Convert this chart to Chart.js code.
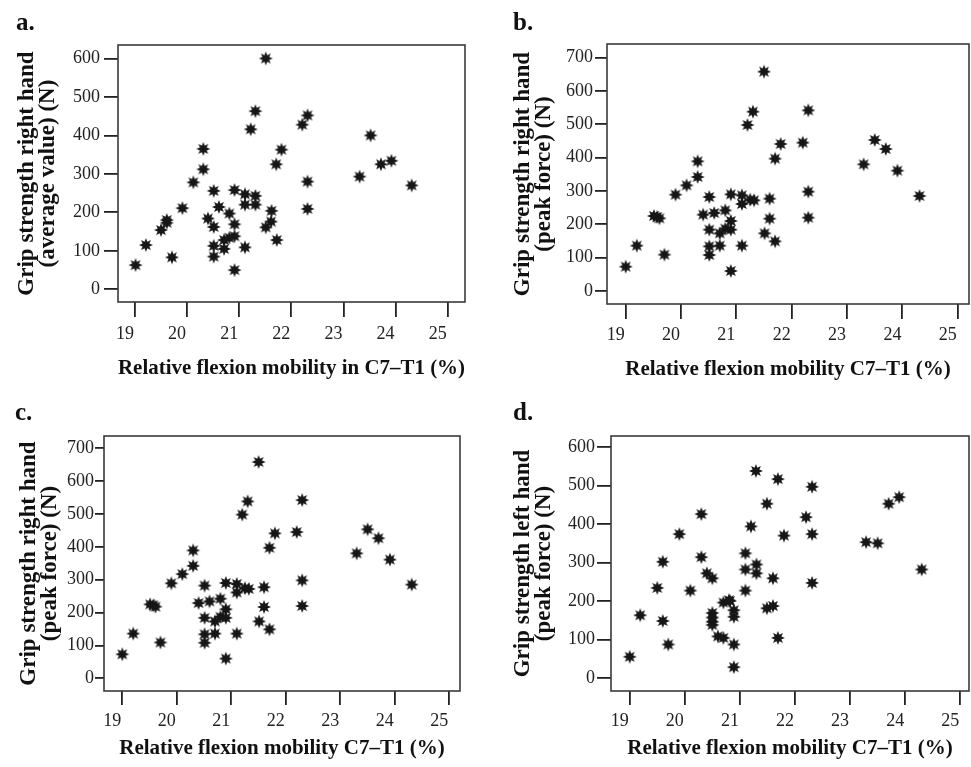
<!DOCTYPE html>
<html>
<head>
<meta charset="utf-8">
<script src="https://cdn.jsdelivr.net/npm/chart.js@4.4.1/dist/chart.umd.min.js"></script>
<style>
  html, body { margin: 0; padding: 0; background: #fff; }
  #wrap { position: relative; width: 971px; height: 767px; background: #fff; overflow: hidden; }
  canvas { position: absolute; }
  .lbl { position: absolute; font-family: 'Liberation Serif', 'Times New Roman', serif; font-weight: bold; font-size: 25px; line-height: 25px; color: #111; }
</style>
</head>
<body>
<div id="wrap">
  <canvas id="cA" width="480" height="400" style="left:0;top:0"></canvas>
  <canvas id="cB" width="491" height="400" style="left:480px;top:0"></canvas>
  <canvas id="cC" width="480" height="387" style="left:0;top:380px"></canvas>
  <canvas id="cD" width="491" height="387" style="left:480px;top:380px"></canvas>
  <div class="lbl" style="left:16px;top:9px">a.</div>
  <div class="lbl" style="left:513px;top:9px">b.</div>
  <div class="lbl" style="left:15px;top:399px">c.</div>
  <div class="lbl" style="left:513px;top:399px">d.</div>
</div>
<script>
// ---------------- DATA ----------------
// Panel a: relative flexion mobility in C7–T1 (%) vs grip strength right hand (average value) (N)
const xA = [21.51,21.31,22.31,22.21,21.22,23.52,20.31,21.81,21.71,23.72,23.92,20.31,23.31,20.12,22.31,24.31,20.51,20.91,21.11,21.31,21.11,21.31,20.61,19.91,22.31,21.62,20.81,20.40,19.61,19.61,21.61,20.91,20.51,21.51,19.50,20.91,20.81,20.71,21.72,19.21,20.51,21.11,20.71,19.71,20.51,19.01,20.91];
const yA = [600,463,452,428,416,400,365,363,325,325,334,312,293,278,280,270,256,258,247,243,220,220,214,211,209,204,197,184,180,173,176,169,162,161,154,138,134,128,128,115,113,109,105,83,85,63,50];

// Panels b and c: grip strength right hand (peak force) (N)
const xB = [21.50,22.30,21.30,21.20,22.20,21.80,23.50,23.70,21.70,23.30,23.91,20.30,20.30,20.10,19.90,24.31,20.51,20.90,21.10,21.10,21.25,21.32,22.30,21.60,20.80,20.60,20.40,19.51,19.57,19.61,21.60,22.30,20.90,20.51,20.80,20.90,20.70,21.51,21.70,19.20,20.51,20.70,21.10,19.70,20.51,19.00,20.90];
const yB = [658,542,538,498,445,441,453,426,397,380,361,389,342,317,289,285,282,290,287,261,274,272,298,277,242,234,229,225,222,218,217,220,210,184,187,184,173,173,149,136,134,136,136,109,108,73,60];
const xC = xB.slice();
const yC = yB.slice();

// Panel d: grip strength left hand (peak force) (N)
const xD = [21.29,21.69,22.31,23.89,23.70,21.49,20.30,22.20,21.20,19.90,21.80,22.31,23.29,23.50,21.10,20.30,19.60,21.30,21.10,24.30,21.30,20.40,20.50,21.60,19.50,20.10,21.10,22.31,20.80,20.70,20.89,21.49,21.60,20.50,20.89,20.50,20.50,20.50,19.19,19.60,20.60,20.70,21.69,19.70,20.89,19.00,20.89,20.82];
const yD = [538,517,497,470,453,453,426,418,394,374,370,374,353,350,324,314,302,295,282,282,272,272,259,259,234,227,227,247,202,196,176,181,187,169,159,157,146,138,163,148,108,104,104,87,87,55,28,200];

// Tick labels
const xTicks = [19, 20, 21, 22, 23, 24, 25];
const yTicks600 = [0, 100, 200, 300, 400, 500, 600];
const yTicks700 = [0, 100, 200, 300, 400, 500, 600, 700];

// Texts
const xTitleA = 'Relative flexion mobility in C7\u2013T1 (%)';
const xTitleB = 'Relative flexion mobility C7\u2013T1 (%)';
const yTitleA = ['Grip strength right hand', '(average value) (N)'];
const yTitleB = ['Grip strength right hand', '(peak force) (N)'];
const yTitleD = ['Grip strength left hand', '(peak force) (N)'];

// ---------------- STYLE ----------------
const SERIF = "'Liberation Serif', 'Times New Roman', serif";

function starMarker(r) {
  const s = Math.ceil(r * 2 + 4);
  const c = document.createElement('canvas');
  c.width = s; c.height = s;
  const g = c.getContext('2d');
  g.translate(s / 2, s / 2);
  g.beginPath();
  for (let i = 0; i < 16; i++) {
    const rad = (i % 2) ? r * 0.52 : r;
    const a = i * Math.PI / 8 - Math.PI / 2;
    g.lineTo(rad * Math.cos(a), rad * Math.sin(a));
  }
  g.closePath();
  g.fillStyle = '#161616';
  g.fill();
  return c;
}
const marker = starMarker(7);

const framePlugin = {
  id: 'frame',
  afterDraw(chart) {
    const { ctx, chartArea: a } = chart;
    ctx.save();
    ctx.strokeStyle = '#3a3a3a';
    ctx.lineWidth = 1.6;
    ctx.strokeRect(a.left, a.top, a.right - a.left, a.bottom - a.top);
    ctx.restore();
  }
};

function makePanel(id, p) {
  const pts = p.xs.map((x, i) => ({ x: x, y: p.ys[i] }));
  return new Chart(document.getElementById(id), {
    type: 'scatter',
    data: { datasets: [{ data: pts, pointStyle: marker, pointRadius: 7, pointHoverRadius: 7, clip: false }] },
    options: {
      responsive: false,
      animation: false,
      events: [],
      layout: { autoPadding: false, padding: { top: p.padTop, right: p.padRight, left: 0, bottom: 0 } },
      plugins: { legend: { display: false }, tooltip: { enabled: false } },
      scales: {
        x: {
          type: 'linear', min: p.xMin, max: p.xMax,
          afterFit: s => { s.height = p.xH; s.paddingLeft = 0; s.paddingRight = 0; },
          afterBuildTicks: s => { s.ticks = xTicks.map(v => ({ value: v })); },
          grid: { drawOnChartArea: false, drawTicks: true, tickLength: p.xTick, color: '#222', lineWidth: 1.8 },
          border: { display: false },
          ticks: { autoSkip: false, maxRotation: 0, labelOffset: -10, padding: p.xLblPad, color: '#222', font: { family: SERIF, size: 18 } },
          title: { display: true, text: p.xTitle, color: '#111', padding: { top: 0, bottom: p.xTitlePad }, font: { family: SERIF, size: 21, weight: 'bold', lineHeight: 1 } }
        },
        y: {
          type: 'linear', min: p.yMin, max: p.yMax,
          afterFit: s => { s.width = p.yW; s.paddingTop = 0; s.paddingBottom = 0; },
          afterBuildTicks: s => { s.ticks = p.yTicks.map(v => ({ value: v })); },
          grid: { drawOnChartArea: false, drawTicks: true, tickLength: p.yTick, color: '#222', lineWidth: 1.8 },
          border: { display: false },
          ticks: { autoSkip: false, padding: p.yLblPad, color: '#222', font: { family: SERIF, size: 18 } },
          title: { display: true, text: p.yTitle, color: '#111', padding: { top: p.yTitlePad, bottom: 0 }, font: { family: SERIF, size: 23, weight: 'bold', lineHeight: 0.93 } }
        }
      }
    },
    plugins: [framePlugin]
  });
}

makePanel('cA', { xs: xA, ys: yA, xMin: 18.674, xMax: 25.332, yMin: -33, yMax: 635, yTicks: yTicks600,
  padTop: 45, padRight: 15, xH: 98, yW: 118, xTick: 15, yTick: 14, xLblPad: 6, yLblPad: 4,
  xTitle: xTitleA, yTitle: yTitleA, xTitlePad: 21, yTitlePad: 16 });
makePanel('cB', { xs: xB, ys: yB, xMin: 18.662, xMax: 25.204, yMin: -39, yMax: 741, yTicks: yTicks700,
  padTop: 44, padRight: 2, xH: 96, yW: 127, xTick: 15, yTick: 12, xLblPad: 5, yLblPad: 2,
  xTitle: xTitleB, yTitle: yTitleB, xTitlePad: 20, yTitlePad: 32 });
makePanel('cC', { xs: xC, ys: yC, xMin: 18.664, xMax: 25.196, yMin: -38.6, yMax: 737, yTicks: yTicks700,
  padTop: 56, padRight: 20, xH: 76, yW: 104, xTick: 14, yTick: 9, xLblPad: 5, yLblPad: 1,
  xTitle: xTitleB, yTitle: yTitleB, xTitlePad: 8, yTitlePad: 18 });
makePanel('cD', { xs: xD, ys: yD, xMin: 18.66, xMax: 25.158, yMin: -34, yMax: 629, yTicks: yTicks600,
  padTop: 56, padRight: 2, xH: 76, yW: 131, xTick: 14, yTick: 14, xLblPad: 5, yLblPad: 2,
  xTitle: xTitleB, yTitle: yTitleD, xTitlePad: 8, yTitlePad: 32 });
</script>
</body>
</html>
